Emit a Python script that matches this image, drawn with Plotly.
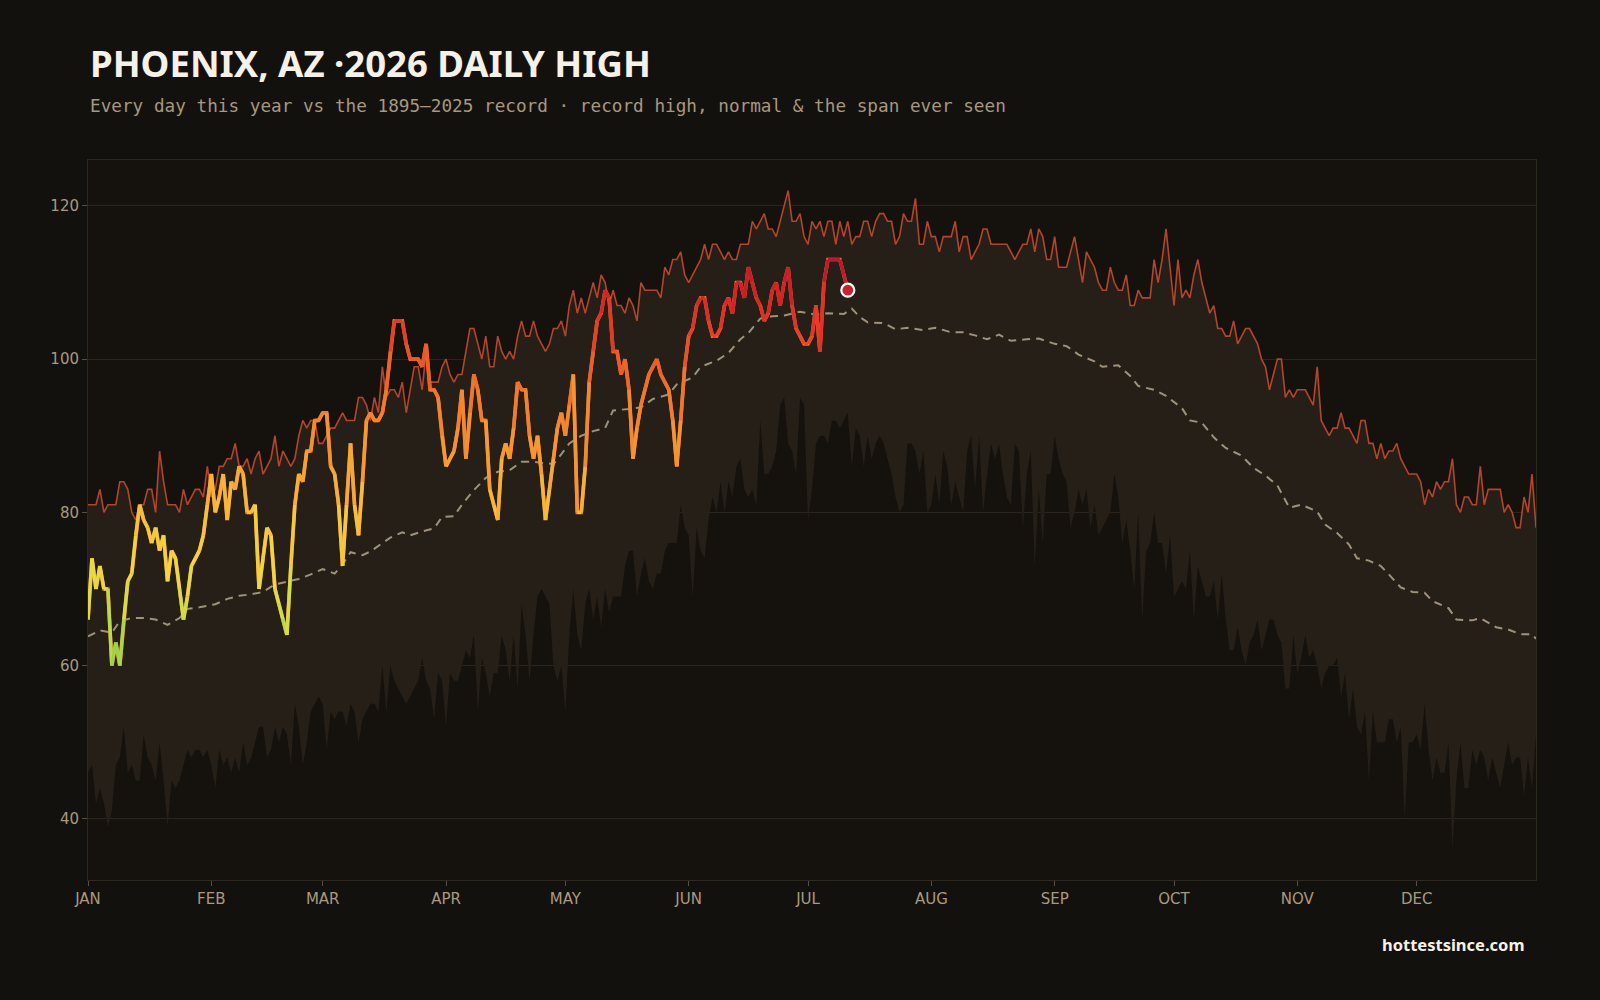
import plotly.graph_objects as go

# ---------------- data ----------------
MONTH_LABELS = ["JAN", "FEB", "MAR", "APR", "MAY", "JUN", "JUL", "AUG", "SEP", "OCT", "NOV", "DEC"]
MONTH_START_DAY = [0, 31, 59, 90, 120, 151, 181, 212, 243, 273, 304, 334]

# record high by day of year (1895-2025), day 0 = Jan 1
RECORD_HIGH = [
    81, 81, 81, 83, 80, 81, 81, 81, 84, 84,
    83, 80, 79, 81, 81, 83, 83, 80, 88, 84,
    81, 81, 81, 80, 83, 81, 82, 83, 83, 82,
    86, 82, 83, 86, 86, 87, 87, 89, 86, 86,
    87, 85, 87, 88, 85, 86, 87, 90, 86, 88,
    87, 86, 87, 90, 92, 91, 92, 92, 89, 89,
    90, 91, 91, 92, 93, 92, 92, 92, 95, 95,
    94, 92, 95, 93, 99, 95, 96, 96, 95, 97,
    93, 96, 99, 99, 96, 101, 97, 97, 97, 99,
    100, 98, 97, 98, 98, 101, 104, 104, 102, 100,
    103, 99, 99, 103, 101, 100, 101, 100, 103, 105,
    103, 103, 105, 103, 102, 101, 102, 104, 104, 105,
    103, 107, 109, 106, 108, 106, 108, 110, 108, 111,
    110, 107, 109, 107, 107, 106, 108, 107, 105, 110,
    109, 109, 109, 109, 108, 112, 111, 113, 113, 114,
    111, 110, 111, 112, 113, 115, 113, 115, 115, 114,
    113, 114, 113, 113, 115, 115, 115, 118, 117, 118,
    119, 117, 117, 116, 118, 120, 122, 118, 118, 119,
    116, 115, 118, 117, 118, 116, 118, 118, 115, 118,
    116, 118, 115, 116, 116, 118, 118, 116, 118, 119,
    119, 118, 118, 115, 116, 119, 118, 118, 121, 115,
    115, 118, 116, 116, 114, 116, 116, 116, 118, 114,
    116, 116, 113, 114, 115, 117, 117, 115, 115, 115,
    115, 115, 114, 113, 114, 115, 115, 117, 114, 117,
    116, 113, 113, 116, 112, 112, 112, 114, 116, 113,
    110, 114, 113, 112, 110, 109, 109, 112, 110, 109,
    109, 111, 107, 107, 109, 108, 108, 108, 113, 110,
    113, 117, 112, 107, 113, 108, 109, 108, 111, 113,
    110, 108, 106, 107, 104, 104, 103, 103, 105, 102,
    103, 104, 104, 103, 102, 100, 99, 96, 98, 100,
    100, 95, 96, 95, 96, 96, 96, 95, 94, 99,
    92, 91, 90, 91, 91, 93, 91, 91, 90, 89,
    92, 92, 89, 89, 87, 89, 87, 88, 88, 89,
    87, 86, 85, 85, 85, 84, 81, 83, 82, 84,
    83, 84, 84, 87, 81, 80, 82, 82, 81, 81,
    86, 81, 83, 83, 83, 83, 80, 81, 80, 78,
    78, 82, 80, 85, 78,
]

# record low daily high (bottom of the span ever seen)
RECORD_LOW = [
    46, 47, 42, 44, 42, 39, 41, 47, 48, 52,
    46, 47, 45, 45, 51, 48, 47, 45, 50, 45,
    39, 45, 44, 45, 47, 49, 48, 49, 49, 48,
    49, 47, 44, 49, 47, 48, 46, 48, 46, 50,
    47, 48, 50, 52, 52, 48, 49, 52, 50, 52,
    51, 47, 55, 52, 47, 50, 54, 55, 56, 55,
    49, 54, 53, 54, 54, 52, 55, 54, 50, 53,
    54, 55, 55, 54, 60, 54, 60, 58, 57, 56,
    55, 56, 57, 58, 61, 58, 57, 53, 59, 58,
    52, 59, 58, 58, 60, 62, 61, 64, 54, 61,
    59, 56, 59, 59, 64, 62, 58, 64, 57, 68,
    64, 58, 64, 69, 70, 69, 68, 60, 58, 60,
    54, 64, 70, 64, 62, 68, 70, 66, 69, 65,
    70, 67, 69, 69, 69, 73, 75, 75, 69, 72,
    74, 71, 70, 72, 72, 75, 76, 76, 76, 81,
    78, 77, 69, 78, 75, 74, 79, 82, 80, 84,
    80, 84, 82, 86, 87, 83, 82, 83, 81, 92,
    85, 85, 86, 88, 94, 95, 89, 88, 85, 95,
    94, 79, 83, 89, 90, 90, 89, 92, 92, 91,
    92, 93, 86, 91, 90, 86, 90, 87, 89, 90,
    89, 87, 85, 82, 80, 81, 89, 89, 88, 85,
    88, 80, 81, 85, 81, 88, 86, 81, 84, 82,
    80, 88, 90, 83, 90, 80, 85, 89, 87, 89,
    85, 82, 81, 89, 88, 78, 85, 88, 73, 83,
    76, 85, 85, 90, 87, 85, 84, 78, 80, 83,
    81, 83, 78, 81, 77, 78, 79, 80, 85, 82,
    76, 79, 75, 70, 80, 66, 75, 76, 80, 76,
    76, 72, 77, 69, 70, 71, 70, 75, 66, 73,
    71, 69, 69, 71, 66, 72, 66, 62, 62, 65,
    62, 60, 63, 64, 66, 62, 64, 66, 66, 64,
    63, 57, 57, 64, 59, 61, 64, 61, 62, 60,
    57, 59, 60, 60, 61, 56, 59, 53, 57, 52,
    51, 54, 45, 54, 50, 50, 50, 53, 53, 50,
    52, 40, 50, 50, 51, 49, 55, 49, 45, 48,
    46, 46, 50, 36, 45, 50, 44, 44, 49, 47,
    49, 48, 45, 48, 46, 44, 47, 50, 47, 48,
    48, 43, 48, 44, 51,
]

# normal daily high (read at sampled days)
NORMAL_DAY = [0, 3, 6, 8, 11, 14, 17, 20, 23, 25, 28, 32, 35, 38, 41, 44, 47, 50, 53, 56,
              59, 62, 64, 66, 69, 71, 74, 76, 79, 81, 84, 87, 89, 92, 94, 97, 100, 103, 106, 109,
              112, 115, 117, 119, 121, 124, 127, 130, 132, 136, 139, 142, 146, 148, 152, 154, 158, 161, 164, 166,
              169, 172, 175, 179, 183, 186, 190, 192, 194, 196, 200, 203, 206, 210, 213, 217, 220, 223, 226, 229,
              232, 236, 239, 243, 246, 249, 253, 255, 259, 262, 264, 268, 271, 275, 277, 280, 283, 286, 290, 293,
              296, 299, 301, 302, 305, 309, 311, 314, 317, 319, 322, 325, 327, 330, 333, 336, 338, 342, 344, 348,
              350, 354, 357, 360, 363, 364]
NORMAL_VAL = [63.8, 64.6, 64.3, 65.8, 66.2, 66.2, 66.0, 65.3, 66.2, 67.4, 67.6, 68.0, 68.7, 69.1, 69.3, 69.6, 70.6, 71.0, 71.3, 71.9,
              72.6, 72.0, 73.2, 74.8, 74.4, 74.9, 76.0, 76.7, 77.4, 77.0, 77.5, 77.9, 79.4, 79.5, 81.0, 82.9, 84.5, 85.3, 85.5, 86.6,
              86.6, 86.4, 86.3, 87.6, 89.0, 90.0, 90.6, 91.0, 93.3, 93.5, 93.7, 94.8, 95.4, 96.7, 97.6, 99.0, 99.8, 100.8, 102.6, 103.4,
              105.3, 105.6, 105.7, 106.2, 105.8, 106.0, 105.9, 106.6, 105.5, 104.8, 104.7, 103.9, 104.1, 103.8, 104.1, 103.5, 103.5, 103.1, 102.6, 103.2,
              102.4, 102.6, 102.7, 102.0, 101.7, 100.6, 99.7, 99.0, 99.2, 97.8, 96.5, 96.0, 95.2, 93.6, 92.0, 91.7, 89.8, 88.4, 87.4, 85.8,
              84.8, 83.5, 81.5, 80.6, 81.0, 80.1, 78.4, 77.3, 75.8, 74.0, 73.7, 73.0, 71.9, 70.2, 69.6, 69.5, 68.4, 67.5, 66.0, 65.9,
              66.2, 65.0, 64.7, 64.1, 64.1, 63.5]

# 2026 daily high, Jan 1 .. Jul 11
TEMPS_2026 = [
    66, 74, 70, 73, 70, 70, 60, 63, 60, 66,
    71, 72, 77, 81, 79, 78, 76, 78, 75, 77,
    71, 75, 74, 70, 66, 69, 73, 74, 75, 77,
    81, 85, 80, 82, 85, 79, 84, 83, 86, 85,
    80, 80, 81, 70, 74, 78, 77, 70, 68, 66,
    64, 73, 81, 85, 84, 88, 88, 92, 92, 93,
    93, 86, 85, 81, 73, 81, 89, 81, 77, 84,
    92, 93, 92, 92, 93, 96, 101, 105, 105, 105,
    102, 100, 100, 100, 99, 102, 96, 96, 95, 90,
    86, 87, 88, 91, 96, 87, 93, 98, 96, 92,
    92, 83, 81, 79, 87, 89, 87, 91, 97, 96,
    96, 90, 87, 90, 85, 79, 83, 87, 91, 93,
    90, 94, 98, 80, 80, 86, 97, 101, 105, 106,
    109, 108, 101, 101, 98, 100, 96, 87, 91, 94,
    96, 98, 99, 100, 98, 97, 96, 92, 86, 92,
    99, 103, 104, 107, 108, 108, 105, 103, 103, 104,
    107, 108, 106, 110, 110, 108, 112, 110, 108, 107,
    105, 106, 109, 110, 107, 110, 112, 107, 104, 103,
    102, 102, 103, 107, 101, 110, 113, 113, 113, 113,
    111, 109,
]

# ---------------- styling ----------------
PAPER_BG = "#13110d"
PLOT_BG = "#15120e"
BAND = "#251f17"
RECORD_COLOR = "#b3452b"
NORMAL_COLOR = "#9e927a"
TICK_COLOR = "#a89a80"
GRID = "#29241d"

COLOR_STOPS = [
    (60, (150, 206, 74)),
    (67, (206, 222, 70)),
    (73, (243, 214, 66)),
    (81, (246, 186, 60)),
    (89, (245, 148, 48)),
    (97, (240, 110, 42)),
    (103, (230, 66, 40)),
    (108, (214, 36, 36)),
    (113, (184, 22, 44)),
]


def temp_color(v):
    if v <= COLOR_STOPS[0][0]:
        c = COLOR_STOPS[0][1]
    elif v >= COLOR_STOPS[-1][0]:
        c = COLOR_STOPS[-1][1]
    else:
        for (a, ca), (b, cb) in zip(COLOR_STOPS[:-1], COLOR_STOPS[1:]):
            if a <= v <= b:
                t = (v - a) / (b - a)
                c = tuple(round(ca[k] + (cb[k] - ca[k]) * t) for k in range(3))
                break
    return "rgb(%d,%d,%d)" % c


days_all = list(range(len(RECORD_HIGH)))
days_2026 = list(range(len(TEMPS_2026)))

fig = go.Figure()

# span ever seen (band between record low and record high)
fig.add_trace(go.Scatter(x=days_all, y=RECORD_LOW, mode="lines",
                         line=dict(width=0, color=BAND), hoverinfo="skip", showlegend=False))
fig.add_trace(go.Scatter(x=days_all, y=RECORD_HIGH, mode="lines", fill="tonexty",
                         fillcolor=BAND, line=dict(width=0, color=BAND),
                         hoverinfo="skip", showlegend=False))

# normal
fig.add_trace(go.Scatter(x=NORMAL_DAY, y=NORMAL_VAL, mode="lines",
                         line=dict(color=NORMAL_COLOR, width=2, dash="8px,6px"),
                         hoverinfo="skip", showlegend=False))

# record high line
fig.add_trace(go.Scatter(x=days_all, y=RECORD_HIGH, mode="lines",
                         line=dict(color=RECORD_COLOR, width=1.6),
                         hoverinfo="skip", showlegend=False))

# 2026 line, coloured by temperature
fig.add_trace(go.Scatter(x=days_2026, y=TEMPS_2026, mode="lines",
                         line=dict(color="rgb(240,120,44)", width=3.6),
                         hoverinfo="skip", showlegend=False))
for i in range(len(TEMPS_2026) - 1):
    mid = (TEMPS_2026[i] + TEMPS_2026[i + 1]) / 2
    fig.add_trace(go.Scatter(x=days_2026[i:i + 2], y=TEMPS_2026[i:i + 2], mode="lines",
                             line=dict(color=temp_color(mid), width=3.6),
                             hoverinfo="skip", showlegend=False))

# latest day marker
fig.add_trace(go.Scatter(x=[days_2026[-1]], y=[TEMPS_2026[-1]], mode="markers",
                         marker=dict(size=13, color="#cc2129", line=dict(color="#ffffff", width=2.2)),
                         hoverinfo="skip", showlegend=False))

fig.update_layout(
    width=1600, height=1000,
    paper_bgcolor=PAPER_BG, plot_bgcolor=PLOT_BG,
    margin=dict(l=88, r=64, t=160, b=120),
    showlegend=False, hovermode=False,
    font=dict(family="DejaVu Sans", color=TICK_COLOR),
)
fig.update_xaxes(
    range=[0, 364], tickmode="array", tickvals=MONTH_START_DAY, ticktext=MONTH_LABELS,
    showgrid=False, zeroline=False, showline=True, mirror=True, linecolor="#2d2820", linewidth=1,
    ticks="outside", ticklen=5, tickcolor="#5a5042",
    tickfont=dict(family="DejaVu Sans", size=15, color=TICK_COLOR),
)
fig.update_yaxes(
    range=[32, 126], tickmode="array", tickvals=[40, 60, 80, 100, 120],
    showgrid=True, gridcolor=GRID, gridwidth=1, zeroline=False,
    showline=True, mirror=True, linecolor="#2d2820", linewidth=1,
    ticks="outside", ticklen=5, tickcolor="#5a5042",
    tickfont=dict(family="DejaVu Sans", size=15, color=TICK_COLOR),
)

fig.add_annotation(xref="paper", yref="paper", x=0, y=(880 - 63) / 720, xanchor="left", yanchor="middle",
                   text="<b>PHOENIX, AZ ·2026 DAILY HIGH</b>", showarrow=False,
                   font=dict(family="Noto Sans", size=36.5, color="#f6f1e7"))
fig.add_annotation(xref="paper", yref="paper", x=0, y=(880 - 106) / 720, xanchor="left", yanchor="middle",
                   text="Every day this year vs the 1895–2025 record · record high, normal &amp; the span ever seen",
                   showarrow=False,
                   font=dict(family="DejaVu Sans Mono", size=17.7, color="#a8987e"))
fig.add_annotation(xref="paper", yref="paper", x=0.994, y=(880 - 945) / 720, xanchor="right", yanchor="middle",
                   text="<b>hottestsince.com</b>", showarrow=False,
                   font=dict(family="Noto Sans", size=16.5, color="#f6f1e7"))

fig.write_html("out.html")
